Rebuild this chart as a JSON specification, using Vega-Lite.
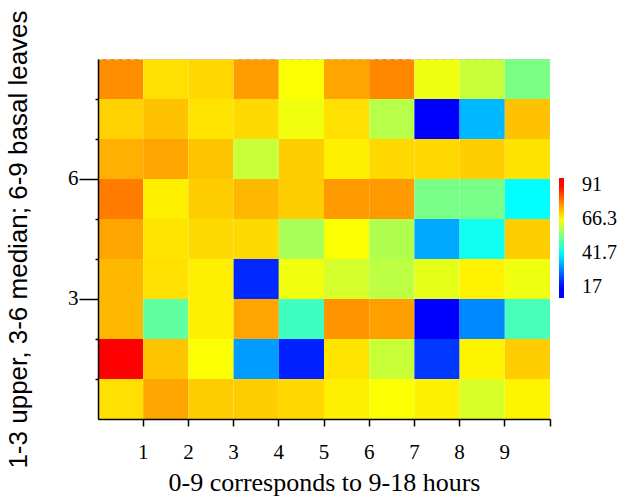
{
  "$schema": "https://vega.github.io/schema/vega-lite/v6.json",
  "width": 452,
  "height": 360,
  "autosize": "none",
  "padding": {"left": 98, "top": 59, "right": 82, "bottom": 80},
  "background": "white",
  "config": {"view": {"stroke": null}},
  "data": {
    "values": [
      {"hour": 1, "level": 9, "value": 77.4}, {"hour": 2, "level": 9, "value": 69.3}, {"hour": 3, "level": 9, "value": 70.1}, {"hour": 4, "level": 9, "value": 75.9}, {"hour": 5, "level": 9, "value": 65.9}, {"hour": 6, "level": 9, "value": 75.0}, {"hour": 7, "level": 9, "value": 77.8}, {"hour": 8, "level": 9, "value": 64.9}, {"hour": 9, "level": 9, "value": 60.9}, {"hour": 10, "level": 9, "value": 53.5},
      {"hour": 1, "level": 8, "value": 70.8}, {"hour": 2, "level": 8, "value": 72.2}, {"hour": 3, "level": 8, "value": 68.9}, {"hour": 4, "level": 8, "value": 69.9}, {"hour": 5, "level": 8, "value": 65.0}, {"hour": 6, "level": 8, "value": 69.3}, {"hour": 7, "level": 8, "value": 59.4}, {"hour": 8, "level": 8, "value": 17.0}, {"hour": 9, "level": 8, "value": 34.8}, {"hour": 10, "level": 8, "value": 72.2},
      {"hour": 1, "level": 7, "value": 74.0}, {"hour": 2, "level": 7, "value": 75.0}, {"hour": 3, "level": 7, "value": 72.0}, {"hour": 4, "level": 7, "value": 60.9}, {"hour": 5, "level": 7, "value": 71.2}, {"hour": 6, "level": 7, "value": 67.9}, {"hour": 7, "level": 7, "value": 70.1}, {"hour": 8, "level": 7, "value": 70.1}, {"hour": 9, "level": 7, "value": 71.2}, {"hour": 10, "level": 7, "value": 69.0},
      {"hour": 1, "level": 6, "value": 79.0}, {"hour": 2, "level": 6, "value": 67.9}, {"hour": 3, "level": 6, "value": 71.2}, {"hour": 4, "level": 6, "value": 73.2}, {"hour": 5, "level": 6, "value": 71.2}, {"hour": 6, "level": 6, "value": 76.1}, {"hour": 7, "level": 6, "value": 76.1}, {"hour": 8, "level": 6, "value": 53.3}, {"hour": 9, "level": 6, "value": 53.3}, {"hour": 10, "level": 6, "value": 41.7},
      {"hour": 1, "level": 5, "value": 75.0}, {"hour": 2, "level": 5, "value": 68.9}, {"hour": 3, "level": 5, "value": 69.9}, {"hour": 4, "level": 5, "value": 69.9}, {"hour": 5, "level": 5, "value": 57.9}, {"hour": 6, "level": 5, "value": 65.9}, {"hour": 7, "level": 5, "value": 58.7}, {"hour": 8, "level": 5, "value": 33.3}, {"hour": 9, "level": 5, "value": 43.1}, {"hour": 10, "level": 5, "value": 71.2},
      {"hour": 1, "level": 4, "value": 73.2}, {"hour": 2, "level": 4, "value": 69.3}, {"hour": 3, "level": 4, "value": 67.9}, {"hour": 4, "level": 4, "value": 20.9}, {"hour": 5, "level": 4, "value": 65.0}, {"hour": 6, "level": 4, "value": 62.2}, {"hour": 7, "level": 4, "value": 59.9}, {"hour": 8, "level": 4, "value": 63.9}, {"hour": 9, "level": 4, "value": 67.7}, {"hour": 10, "level": 4, "value": 64.9},
      {"hour": 1, "level": 3, "value": 73.2}, {"hour": 2, "level": 3, "value": 51.0}, {"hour": 3, "level": 3, "value": 67.9}, {"hour": 4, "level": 3, "value": 75.0}, {"hour": 5, "level": 3, "value": 47.8}, {"hour": 6, "level": 3, "value": 76.7}, {"hour": 7, "level": 3, "value": 75.5}, {"hour": 8, "level": 3, "value": 17.0}, {"hour": 9, "level": 3, "value": 30.2}, {"hour": 10, "level": 3, "value": 48.3},
      {"hour": 1, "level": 2, "value": 91.0}, {"hour": 2, "level": 2, "value": 72.0}, {"hour": 3, "level": 2, "value": 65.9}, {"hour": 4, "level": 2, "value": 32.1}, {"hour": 5, "level": 2, "value": 20.1}, {"hour": 6, "level": 2, "value": 68.9}, {"hour": 7, "level": 2, "value": 60.9}, {"hour": 8, "level": 2, "value": 22.4}, {"hour": 9, "level": 2, "value": 67.4}, {"hour": 10, "level": 2, "value": 71.2},
      {"hour": 1, "level": 1, "value": 69.3}, {"hour": 2, "level": 1, "value": 75.0}, {"hour": 3, "level": 1, "value": 71.2}, {"hour": 4, "level": 1, "value": 71.2}, {"hour": 5, "level": 1, "value": 70.1}, {"hour": 6, "level": 1, "value": 67.9}, {"hour": 7, "level": 1, "value": 65.9}, {"hour": 8, "level": 1, "value": 67.9}, {"hour": 9, "level": 1, "value": 62.6}, {"hour": 10, "level": 1, "value": 67.4}
    ]
  },
  "layer": [
    {
      "mark": {"type": "rect"},
      "encoding": {
        "x": {
          "field": "hour", "type": "ordinal",
          "scale": {"domain": [1, 2, 3, 4, 5, 6, 7, 8, 9, 10], "paddingInner": 0, "paddingOuter": 0},
          "axis": {
            "orient": "bottom", "bandPosition": 1, "labelAngle": 0, "labelOffset": 22.6,
            "labelExpr": "datum.value == 10 ? '' : datum.label",
            "labelFont": "Liberation Serif", "labelFontSize": 21, "labelColor": "black", "labelPadding": 15,
            "tickSize": 7, "tickColor": "black", "tickWidth": 1.5,
            "domainColor": "black", "domainWidth": 1.5,
            "title": "0-9 corresponds to 9-18 hours",
            "titleFont": "Liberation Serif", "titleFontSize": 26, "titleFontWeight": "normal", "titleColor": "black",
            "titleBaseline": "alphabetic", "titleY": 71
          }
        },
        "y": {
          "field": "level", "type": "ordinal",
          "scale": {"domain": [9, 8, 7, 6, 5, 4, 3, 2, 1], "paddingInner": 0, "paddingOuter": 0},
          "axis": {
            "orient": "left", "bandPosition": 0, "labelOffset": -20,
            "labelExpr": "datum.value == 3 || datum.value == 6 ? datum.label : ''",
            "labelFont": "Liberation Serif", "labelFontSize": 21, "labelColor": "black", "labelPadding": 1,
            "tickSize": {"condition": {"test": "datum.value == 3 || datum.value == 6", "value": 19}, "value": 3},
            "tickOpacity": {"condition": {"test": "datum.value == 9", "value": 0}, "value": 1},
            "tickColor": "black", "tickWidth": 1.5,
            "domainColor": "black", "domainWidth": 1.5,
            "title": "1-3 upper, 3-6 median; 6-9 basal leaves",
            "titleFont": "Liberation Sans", "titleFontSize": 26, "titleFontWeight": "normal", "titleColor": "black",
            "titleBaseline": "middle", "titleX": -80, "titleY": 180
          }
        },
        "color": {
          "field": "value", "type": "quantitative",
          "scale": {"type": "linear", "domain": [9, 17, 41.6667, 66.3333, 91, 96], "range": ["#0000ff", "#0000ff", "#00ffff", "#ffff00", "#ff0000", "#ff0000"], "interpolate": "rgb"},
          "legend": {
            "orient": "none", "legendX": 461, "legendY": 119, "direction": "vertical",
            "gradientLength": 120, "gradientThickness": 5, "gradientStrokeWidth": 0,
            "values": [17, 41.7, 66.3, 91], "format": ".1~f",
            "labelFont": "Liberation Serif", "labelFontSize": 20, "labelColor": "black", "labelOffset": 18,
            "labelBaseline": "middle", "title": null
          }
        }
      }
    },
    {
      "mark": {"type": "rect", "opacity": 0},
      "encoding": {
        "x": {
          "field": "hour", "type": "ordinal",
          "axis": {"orient": "top", "labels": false, "ticks": false, "title": null, "domainColor": "#cccccc", "domainDash": [4, 4], "domainWidth": 1}
        }
      }
    }
  ],
  "resolve": {"axis": {"x": "independent"}}
}
